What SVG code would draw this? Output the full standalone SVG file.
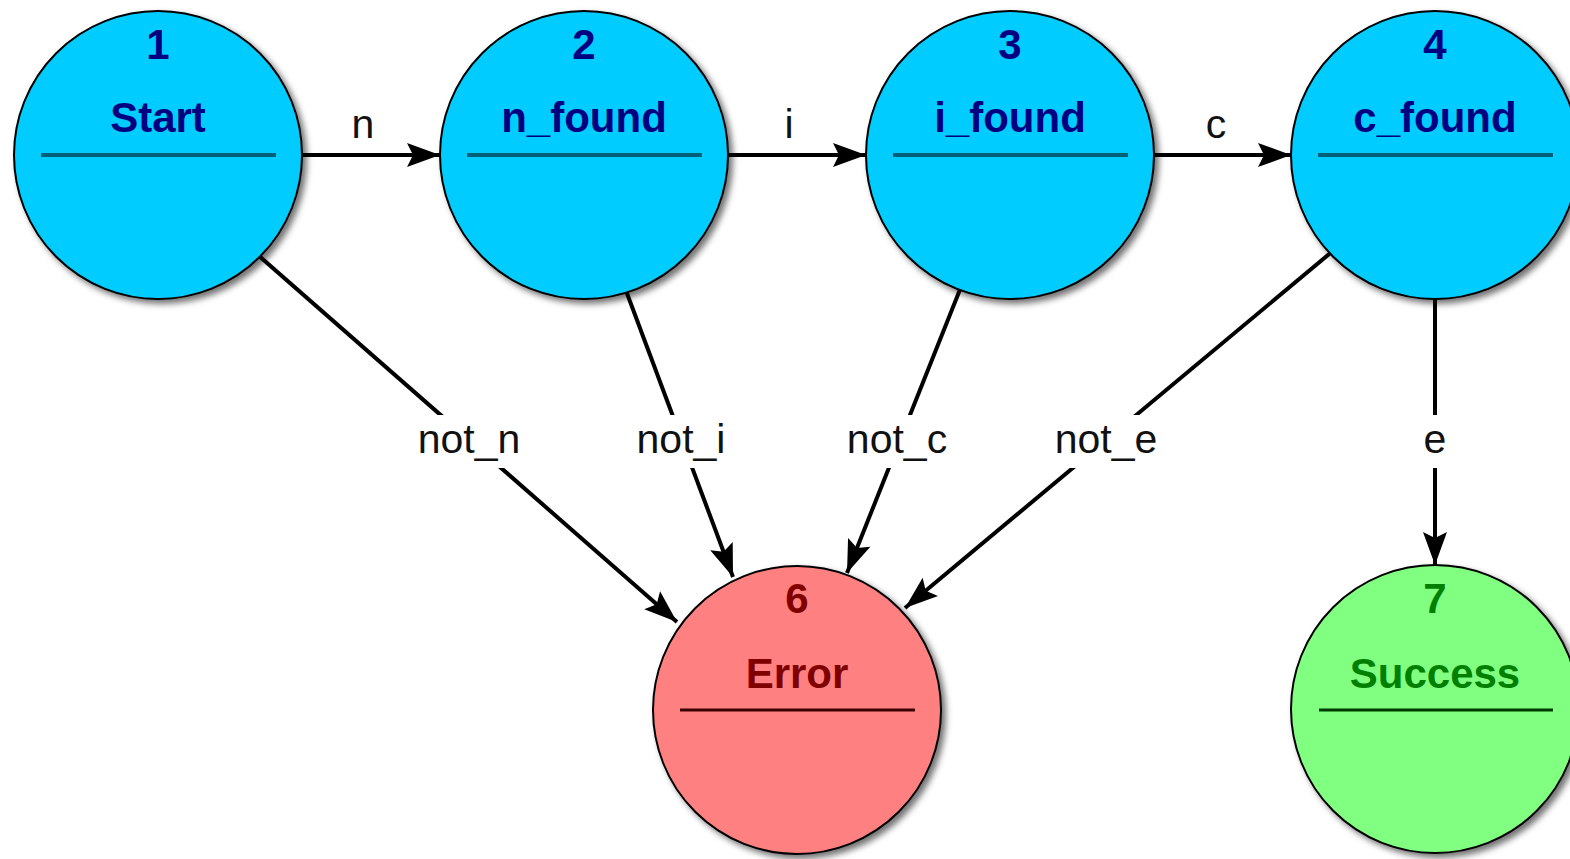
<svg xmlns="http://www.w3.org/2000/svg" width="1570" height="859" viewBox="0 0 1570 859">
<defs>
<filter id="sh" x="-20%" y="-20%" width="140%" height="140%">
<feDropShadow dx="4" dy="4" stdDeviation="3" flood-color="#000" flood-opacity="0.55"/>
</filter>
<marker id="arr" viewBox="-34 -13 36 26" refX="0" refY="0" markerWidth="36" markerHeight="26" markerUnits="userSpaceOnUse" orient="auto">
<path d="M0,0 L-33,-12 L-27,0 L-33,12 Z" fill="#000"/>
</marker>
<style>
.edge{stroke:#000;stroke-width:4;fill:none;marker-end:url(#arr)}
.lbl{font-family:"Liberation Sans",Arial,sans-serif;font-size:41px;fill:#111;text-anchor:middle}
.lbg{fill:#fff}
.node circle{stroke:#000;stroke-width:2}
.num,.name{font-family:"Liberation Sans",Arial,sans-serif;font-size:42px;font-weight:bold;text-anchor:middle}
.blue circle{fill:#00ccff}
.blue text{fill:#000080}
.blue line{stroke:#00607a;stroke-width:4}
.red circle{fill:#ff8080}
.red text{fill:#800000}
.red line{stroke:#3a0000;stroke-width:3}
.green circle{fill:#80ff80}
.green text{fill:#008000}
.green line{stroke:#003a00;stroke-width:3}
</style>
</defs>
<g id="connectors">
<line class="edge" x1="300" y1="155" x2="440" y2="155"/>
<text class="lbl" x="363" y="138">n</text>
<line class="edge" x1="726" y1="155" x2="866" y2="155"/>
<text class="lbl" x="789" y="138">i</text>
<line class="edge" x1="1152" y1="155" x2="1291" y2="155"/>
<text class="lbl" x="1216" y="138">c</text>
<line class="edge" x1="250" y1="248" x2="677" y2="622"/>
<line class="edge" x1="622" y1="280" x2="733" y2="577"/>
<line class="edge" x1="965" y1="277" x2="847" y2="573"/>
<line class="edge" x1="1340" y1="245" x2="905" y2="608"/>
<line class="edge" x1="1435" y1="290" x2="1435" y2="565"/>
<rect class="lbg" x="414" y="415" width="110" height="53"/>
<rect class="lbg" x="634" y="415" width="95" height="53"/>
<rect class="lbg" x="843" y="415" width="108" height="53"/>
<rect class="lbg" x="1051" y="415" width="110" height="53"/>
<rect class="lbg" x="1420" y="415" width="30" height="53"/>
<text class="lbl" x="469" y="453">not_n</text>
<text class="lbl" x="681" y="453">not_i</text>
<text class="lbl" x="897" y="453">not_c</text>
<text class="lbl" x="1106" y="453">not_e</text>
<text class="lbl" x="1435" y="453">e</text>
</g>
<g id="node1" class="node blue">
<circle cx="158" cy="155" r="144" filter="url(#sh)"/>
<text class="num" x="158" y="59">1</text>
<text class="name" x="158" y="132">Start</text>
<line x1="41" y1="155" x2="276" y2="155"/>
</g>
<g id="node2" class="node blue">
<circle cx="584" cy="155" r="144" filter="url(#sh)"/>
<text class="num" x="584" y="59">2</text>
<text class="name" x="584" y="132">n_found</text>
<line x1="467" y1="155" x2="702" y2="155"/>
</g>
<g id="node3" class="node blue">
<circle cx="1010" cy="155" r="144" filter="url(#sh)"/>
<text class="num" x="1010" y="59">3</text>
<text class="name" x="1010" y="132">i_found</text>
<line x1="893" y1="155" x2="1128" y2="155"/>
</g>
<g id="node4" class="node blue">
<circle cx="1435" cy="155" r="144" filter="url(#sh)"/>
<text class="num" x="1435" y="59">4</text>
<text class="name" x="1435" y="132">c_found</text>
<line x1="1318" y1="155" x2="1553" y2="155"/>
</g>
<g id="node6" class="node red">
<circle cx="797" cy="710" r="144" filter="url(#sh)"/>
<text class="num" x="797" y="613">6</text>
<text class="name" x="797" y="688">Error</text>
<line x1="680" y1="710" x2="915" y2="710"/>
</g>
<g id="node7" class="node green">
<circle cx="1435" cy="709" r="144" filter="url(#sh)"/>
<text class="num" x="1435" y="613">7</text>
<text class="name" x="1435" y="688">Success</text>
<line x1="1319" y1="710" x2="1553" y2="710"/>
</g>
</svg>
